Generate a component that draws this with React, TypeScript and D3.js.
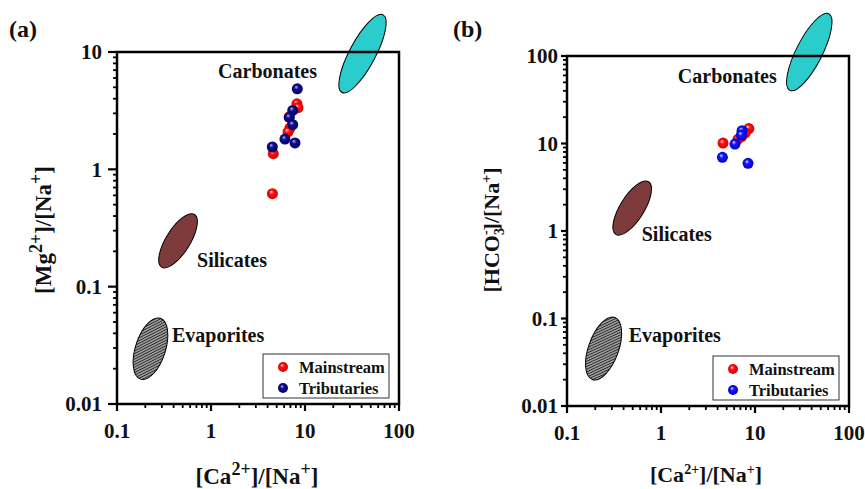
import React from "react";
import * as d3 from "d3";

const W = 865;
const H = 489;
const FONT = "'Liberation Serif', 'Times New Roman', serif";

// shared x axis: [Ca2+]/[Na+]
const xDomain = [0.1, 100];
const xTicks = [0.1, 1, 10, 100];
const xTickLabels = ["0.1", "1", "10", "100"];

// panel (a): [Mg2+]/[Na+]
const mgDomain = [0.01, 10];
const mgTicks = [0.01, 0.1, 1, 10];
const mgTickLabels = ["0.01", "0.1", "1", "10"];
const mgMainX = [8.2, 8.43, 6.92, 6.6, 6.8, 4.6, 4.5];
const mgMainY = [3.62, 3.35, 2.25, 2.09, 2.8, 1.36, 0.62];
const mgTribX = [8.28, 7.4, 6.8, 7.4, 6.12, 7.83, 4.49];
const mgTribY = [4.86, 3.18, 2.77, 2.4, 1.81, 1.68, 1.55];

// panel (b): [HCO3-]/[Na+]
const hcoDomain = [0.01, 100];
const hcoTicks = [0.01, 0.1, 1, 10, 100];
const hcoTickLabels = ["0.01", "0.1", "1", "10", "100"];
const hcoMainX = [8.6, 7.9, 6.6, 4.57, 7.2];
const hcoMainY = [14.8, 13.2, 11.2, 10.1, 12.0];
const hcoTribX = [7.28, 7.16, 6.12, 4.5, 8.43];
const hcoTribY = [14.0, 12.5, 9.86, 6.95, 5.94];

// end-member fields (centres in data units) and their label anchors
const endMembers = ["Carbonates", "Silicates", "Evaporites"];
const mgEndX = [40.9, 0.446, 0.227];
const mgEndY = [9.67, 0.246, 0.0296];
const mgNoteX = [1.19, 0.71, 0.385];
const mgNoteY = [6.04, 0.148, 0.0339];
const hcoEndX = [37.8, 0.494, 0.245];
const hcoEndY = [111, 1.83, 0.0454];
const hcoNoteX = [1.51, 0.624, 0.453];
const hcoNoteY = [49.1, 0.769, 0.0538];

const seriesNames = ["Mainstream", "Tributaries"];

// ellipse shapes (px) and fills
const mgShapes = [
  { rx: 44, ry: 13, rot: -62, fill: "#2ACCCC" },
  { rx: 31, ry: 12, rot: -58, fill: "#7F3B3B" },
  { rx: 32, ry: 15, rot: -72, fill: "url(#hatch)" },
];
const hcoShapes = [
  { rx: 43, ry: 13, rot: -63, fill: "#2ACCCC" },
  { rx: 31, ry: 12, rot: -58, fill: "#7F3B3B" },
  { rx: 33, ry: 15, rot: -70, fill: "url(#hatch)" },
];

const minorTicks = (domain: number[]) => {
  const out: number[] = [];
  const e0 = Math.round(Math.log10(domain[0]));
  const e1 = Math.round(Math.log10(domain[1]));
  for (let e = e0; e < e1; e++) {
    for (let k = 2; k <= 9; k++) out.push(k * Math.pow(10, e));
  }
  return out;
};

const Panel = ({
  box,
  yDomain,
  yTicks,
  yTickLabels,
  yGap,
  yMajor,
  main,
  trib,
  endX,
  endY,
  noteX,
  noteY,
  shapes,
  tribGrad,
}: any) => {
  const x = d3.scaleLog().domain(xDomain).range([box.left, box.right]);
  const y = d3.scaleLog().domain(yDomain).range([box.bottom, box.top]);
  const r = 5.5;
  const legW = 126;
  const legH = 44;
  const legX = box.right - 10 - legW;
  const legY = box.bottom - 6 - legH;

  return (
    <g>
      {/* end-member fields */}
      {endMembers.map((name, i) => (
        <ellipse
          key={name}
          transform={`translate(${x(endX[i])},${y(endY[i])}) rotate(${shapes[i].rot})`}
          rx={shapes[i].rx}
          ry={shapes[i].ry}
          fill={shapes[i].fill}
          stroke="#000"
          strokeWidth={1}
        />
      ))}

      {/* frame */}
      <rect
        x={box.left}
        y={box.top}
        width={box.right - box.left}
        height={box.bottom - box.top}
        fill="none"
        stroke="#000"
        strokeWidth={2.5}
      />

      {/* x ticks */}
      {xTicks.map((t) => (
        <line key={"xM" + t} x1={x(t)} x2={x(t)} y1={box.bottom} y2={box.bottom + 7} stroke="#000" strokeWidth={2.2} />
      ))}
      {minorTicks(xDomain).map((t) => (
        <line key={"xm" + t} x1={x(t)} x2={x(t)} y1={box.bottom} y2={box.bottom + 4} stroke="#000" strokeWidth={1.8} />
      ))}
      {xTicks.map((t, i) => (
        <text key={"xl" + t} x={x(t)} y={box.bottom + 34} textAnchor="middle" fontSize={21} fontWeight="bold">
          {xTickLabels[i]}
        </text>
      ))}

      {/* y ticks */}
      {yTicks.map((t: number) => (
        <line key={"yM" + t} x1={box.left - yMajor} x2={box.left} y1={y(t)} y2={y(t)} stroke="#000" strokeWidth={2.2} />
      ))}
      {minorTicks(yDomain).map((t) => (
        <line key={"ym" + t} x1={box.left - 4} x2={box.left} y1={y(t)} y2={y(t)} stroke="#000" strokeWidth={1.8} />
      ))}
      {yTicks.map((t: number, i: number) => (
        <text key={"yl" + t} x={box.left - yGap} y={y(t)} dy="0.35em" textAnchor="end" fontSize={21} fontWeight="bold">
          {yTickLabels[i]}
        </text>
      ))}

      {/* points */}
      {main.xs.map((v: number, i: number) => (
        <circle key={"m" + i} cx={x(v)} cy={y(main.ys[i])} r={r} fill="url(#gRed)" />
      ))}
      {trib.xs.map((v: number, i: number) => (
        <circle key={"t" + i} cx={x(v)} cy={y(trib.ys[i])} r={r} fill={`url(#${tribGrad})`} />
      ))}

      {/* field labels */}
      {endMembers.map((name, i) => (
        <text key={"n" + name} x={x(noteX[i])} y={y(noteY[i])} fontSize={20} fontWeight="bold">
          {name}
        </text>
      ))}

      {/* legend */}
      <rect x={legX} y={legY} width={legW} height={legH} fill="#fff" stroke="#333" strokeWidth={1} />
      {seriesNames.map((name, i) => (
        <g key={name}>
          <circle cx={legX + 20} cy={legY + 13 + i * 21} r={5} fill={i === 0 ? "url(#gRed)" : `url(#${tribGrad})`} />
          <text x={legX + 36} y={legY + 13 + i * 21} dy="0.35em" fontSize={16.5} fontWeight="bold">
            {name}
          </text>
        </g>
      ))}
    </g>
  );
};

const sphere = (id: string, hi: string, body: string, edge: string) => (
  <radialGradient id={id} cx="0.5" cy="0.5" r="0.55" fx="0.38" fy="0.32">
    <stop offset="0" stopColor={hi} />
    <stop offset="0.35" stopColor={body} />
    <stop offset="1" stopColor={edge} />
  </radialGradient>
);

export default function App() {
  const boxA = { left: 117, top: 52, right: 399, bottom: 404 };
  const boxB = { left: 567, top: 56, right: 849, bottom: 406 };

  return (
    <svg
      width={W}
      height={H}
      style={{ position: "absolute", left: 0, top: 0, background: "#fff" }}
      fontFamily={FONT}
      fill="#111"
    >
      <defs>
        {sphere("gRed", "#ffe0e0", "#ff1010", "#d00000")}
        {sphere("gNavy", "#b8b8ff", "#10108a", "#000060")}
        {sphere("gBlue", "#e0e0ff", "#1515ff", "#0000c0")}
        <pattern id="hatch" patternUnits="userSpaceOnUse" width={2.4} height={2.4} patternTransform="rotate(-45)">
          <rect width={2.4} height={2.4} fill="#9a9a9a" />
          <line x1={0} y1={0} x2={0} y2={2.4} stroke="#1a1a1a" strokeWidth={1.5} />
        </pattern>
      </defs>

      <Panel
        box={boxA}
        yDomain={mgDomain}
        yTicks={mgTicks}
        yTickLabels={mgTickLabels}
        yGap={15}
        yMajor={9}
        main={{ xs: mgMainX, ys: mgMainY }}
        trib={{ xs: mgTribX, ys: mgTribY }}
        endX={mgEndX}
        endY={mgEndY}
        noteX={mgNoteX}
        noteY={mgNoteY}
        shapes={mgShapes}
        tribGrad="gNavy"
      />
      <Panel
        box={boxB}
        yDomain={hcoDomain}
        yTicks={hcoTicks}
        yTickLabels={hcoTickLabels}
        yGap={9}
        yMajor={6}
        main={{ xs: hcoMainX, ys: hcoMainY }}
        trib={{ xs: hcoTribX, ys: hcoTribY }}
        endX={hcoEndX}
        endY={hcoEndY}
        noteX={hcoNoteX}
        noteY={hcoNoteY}
        shapes={hcoShapes}
        tribGrad="gBlue"
      />

      {/* panel tags */}
      <text x={9} y={37} fontSize={24} fontWeight="bold">(a)</text>
      <text x={453} y={37} fontSize={24} fontWeight="bold">(b)</text>

      {/* axis titles, panel (a) */}
      <text x={257} y={484} textAnchor="middle" fontSize={23} fontWeight="bold">
        [Ca<tspan dy={-9} fontSize={18}>2+</tspan>
        <tspan dy={9}>]/[Na</tspan>
        <tspan dy={-9} fontSize={18}>+</tspan>
        <tspan dy={9}>]</tspan>
      </text>
      <text transform="translate(51,230) rotate(-90)" textAnchor="middle" fontSize={23} fontWeight="bold">
        [Mg<tspan dy={-9} fontSize={18}>2+</tspan>
        <tspan dy={9}>]/[Na</tspan>
        <tspan dy={-9} fontSize={18}>+</tspan>
        <tspan dy={9}>]</tspan>
      </text>

      {/* axis titles, panel (b) */}
      <text x={706} y={482} textAnchor="middle" fontSize={22} fontWeight="bold">
        [Ca<tspan dy={-8} fontSize={14}>2+</tspan>
        <tspan dy={8}>]/[Na</tspan>
        <tspan dy={-8} fontSize={14}>+</tspan>
        <tspan dy={8}>]</tspan>
      </text>
      <text transform="translate(499,230) rotate(-90)" textAnchor="middle" fontSize={22} fontWeight="bold">
        [HCO<tspan dy={5} fontSize={14}>3</tspan>
        <tspan dx={-7} dy={-14} fontSize={14}>-</tspan>
        <tspan dy={9}>]/[Na</tspan>
        <tspan dy={-8} fontSize={14}>+</tspan>
        <tspan dy={8}>]</tspan>
      </text>
    </svg>
  );
}
